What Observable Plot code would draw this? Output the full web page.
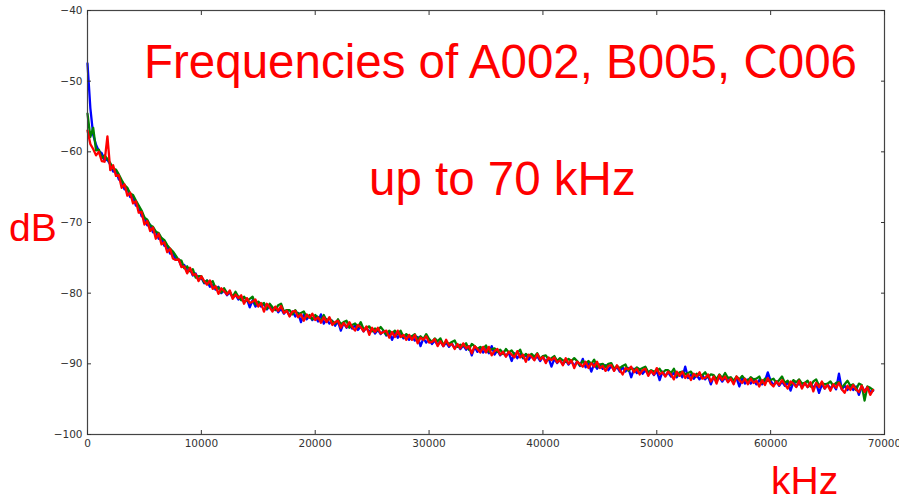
<!DOCTYPE html>
<html>
<head>
<meta charset="utf-8">
<script src="https://cdn.jsdelivr.net/npm/d3@7"></script>
<script src="https://cdn.jsdelivr.net/npm/@observablehq/plot@0.6"></script>
<style>
  body { margin: 0; background: #fff; }
  #chart svg { display: block; }
</style>
</head>
<body>
<div id="chart"></div>
<script>
// Spectrum bins (Hz), one row per kHz
const freqHz = [
  0, 250, 500, 750, 1000, 1250, 1500, 1750, 2000, 2250, 2500, 2750, 3000, 3250, 3500, 3750,
  4000, 4250, 4500, 4750, 5000, 5250, 5500, 5750, 6000, 6250, 6500, 6750, 7000, 7250, 7500, 7750,
  8000, 8250, 8500, 8750, 9000, 9250, 9500, 9750, 10000, 10250, 10500, 10750, 11000, 11250, 11500, 11750,
  12000, 12250, 12500, 12750, 13000, 13250, 13500, 13750, 14000, 14250, 14500, 14750, 15000, 15250, 15500, 15750,
  16000, 16250, 16500, 16750, 17000, 17250, 17500, 17750, 18000, 18250, 18500, 18750, 19000, 19250, 19500, 19750,
  20000, 20250, 20500, 20750, 21000, 21250, 21500, 21750, 22000, 22250, 22500, 22750, 23000, 23250, 23500, 23750,
  24000, 24250, 24500, 24750, 25000, 25250, 25500, 25750, 26000, 26250, 26500, 26750, 27000, 27250, 27500, 27750,
  28000, 28250, 28500, 28750, 29000, 29250, 29500, 29750, 30000, 30250, 30500, 30750, 31000, 31250, 31500, 31750,
  32000, 32250, 32500, 32750, 33000, 33250, 33500, 33750, 34000, 34250, 34500, 34750, 35000, 35250, 35500, 35750,
  36000, 36250, 36500, 36750, 37000, 37250, 37500, 37750, 38000, 38250, 38500, 38750, 39000, 39250, 39500, 39750,
  40000, 40250, 40500, 40750, 41000, 41250, 41500, 41750, 42000, 42250, 42500, 42750, 43000, 43250, 43500, 43750,
  44000, 44250, 44500, 44750, 45000, 45250, 45500, 45750, 46000, 46250, 46500, 46750, 47000, 47250, 47500, 47750,
  48000, 48250, 48500, 48750, 49000, 49250, 49500, 49750, 50000, 50250, 50500, 50750, 51000, 51250, 51500, 51750,
  52000, 52250, 52500, 52750, 53000, 53250, 53500, 53750, 54000, 54250, 54500, 54750, 55000, 55250, 55500, 55750,
  56000, 56250, 56500, 56750, 57000, 57250, 57500, 57750, 58000, 58250, 58500, 58750, 59000, 59250, 59500, 59750,
  60000, 60250, 60500, 60750, 61000, 61250, 61500, 61750, 62000, 62250, 62500, 62750, 63000, 63250, 63500, 63750,
  64000, 64250, 64500, 64750, 65000, 65250, 65500, 65750, 66000, 66250, 66500, 66750, 67000, 67250, 67500, 67750,
  68000, 68250, 68500, 68750, 69000
];

// Level in dB for each recording
const dbA002 = [
  -47.5, -53.8, -57.6, -59.0, -59.9, -60.2, -61.2, -61.1,
  -61.8, -62.8, -62.7, -63.9, -64.1, -65.3, -65.2, -66.4,
  -66.3, -67.6, -67.7, -69.1, -69.3, -70.4, -70.3, -71.4,
  -71.3, -72.3, -72.2, -73.3, -73.3, -74.4, -74.3, -75.3,
  -75.2, -76.2, -76.0, -76.9, -76.6, -77.5, -77.2, -78.1,
  -77.8, -78.6, -78.2, -79.1, -78.8, -79.5, -79.1, -80.0,
  -79.6, -80.3, -79.9, -80.6, -80.2, -80.9, -80.5, -81.3,
  -80.8, -82.0, -81.0, -81.9, -81.3, -81.9, -81.5, -82.3,
  -81.8, -82.4, -82.0, -82.7, -82.2, -82.9, -82.4, -83.2,
  -82.6, -83.3, -82.8, -84.1, -83.0, -83.7, -83.2, -83.8,
  -83.3, -84.0, -83.0, -84.3, -83.7, -84.3, -83.9, -84.6,
  -84.0, -85.3, -84.2, -84.9, -84.4, -85.0, -84.6, -85.2,
  -84.7, -85.4, -84.9, -85.5, -85.0, -85.7, -85.2, -85.8,
  -85.3, -86.0, -85.5, -86.6, -85.6, -86.3, -85.8, -86.4,
  -85.9, -86.6, -86.1, -86.7, -86.2, -87.5, -86.4, -87.0,
  -86.5, -87.2, -86.7, -87.3, -86.8, -87.5, -87.0, -87.6,
  -87.1, -87.8, -87.3, -87.9, -87.4, -88.0, -87.5, -88.8,
  -87.6, -88.3, -87.8, -88.4, -87.9, -88.5, -87.5, -88.7,
  -88.1, -88.8, -88.3, -88.9, -88.4, -89.6, -88.5, -89.2,
  -88.6, -89.2, -88.7, -89.4, -88.8, -89.4, -88.9, -89.6,
  -89.0, -89.7, -89.2, -90.4, -89.3, -89.9, -89.4, -90.1,
  -89.5, -90.1, -89.6, -90.3, -89.7, -90.3, -89.3, -90.5,
  -89.9, -91.1, -90.0, -90.7, -90.1, -90.7, -90.2, -90.9,
  -90.3, -90.9, -90.4, -91.1, -90.5, -91.1, -90.6, -91.9,
  -90.7, -91.3, -90.8, -91.4, -90.9, -91.4, -91.0, -91.6,
  -91.0, -92.3, -91.1, -91.7, -91.2, -91.8, -91.3, -91.9,
  -91.3, -91.9, -90.4, -92.0, -91.5, -92.1, -91.6, -92.2,
  -91.6, -92.2, -91.7, -92.9, -91.8, -92.4, -91.9, -92.5,
  -91.9, -92.5, -92.0, -92.6, -92.0, -93.2, -92.1, -92.8,
  -92.2, -92.8, -92.3, -92.9, -92.3, -92.9, -92.4, -91.2,
  -92.4, -93.0, -92.5, -93.1, -92.5, -93.1, -92.6, -93.8,
  -92.6, -93.2, -92.7, -93.3, -92.7, -93.3, -92.8, -93.4,
  -92.8, -94.1, -92.9, -93.5, -92.9, -93.5, -93.0, -93.6,
  -91.4, -93.6, -93.1, -93.7, -93.1, -93.7, -93.2, -94.4,
  -93.2, -93.9, -93.3, -94.0, -93.8
];

const dbB005 = [
  -54.6, -57.9, -56.6, -59.8, -59.7, -60.9, -60.5, -61.0,
  -61.6, -62.4, -62.5, -63.2, -64.0, -64.7, -65.1, -65.9,
  -66.1, -66.9, -67.6, -68.3, -69.3, -69.6, -70.4, -70.6,
  -71.3, -71.5, -72.2, -72.5, -73.2, -73.7, -74.1, -74.7,
  -75.3, -75.4, -76.5, -76.2, -76.9, -76.6, -77.8, -77.6,
  -77.6, -78.5, -78.2, -78.7, -78.3, -79.3, -79.2, -79.9,
  -79.3, -80.0, -79.8, -80.5, -79.8, -80.5, -81.0, -80.5,
  -81.1, -80.8, -80.5, -81.6, -81.2, -81.6, -81.4, -82.2,
  -81.5, -82.0, -82.4, -81.7, -81.5, -82.6, -82.4, -82.4,
  -83.0, -82.4, -83.0, -82.8, -82.6, -83.4, -83.1, -83.7,
  -83.1, -83.4, -83.9, -83.1, -83.9, -83.6, -84.0, -84.3,
  -83.7, -84.4, -84.1, -83.9, -84.9, -84.5, -84.3, -84.8,
  -84.1, -85.1, -84.9, -84.7, -85.4, -85.0, -85.3, -84.8,
  -85.3, -85.9, -85.3, -85.7, -85.3, -85.8, -85.3, -86.2,
  -85.8, -86.2, -86.1, -85.8, -86.6, -86.1, -86.5, -85.8,
  -86.5, -86.9, -86.4, -86.8, -86.4, -87.3, -86.9, -87.2,
  -86.9, -86.7, -87.6, -87.3, -87.5, -87.1, -88.0, -87.2,
  -87.5, -87.9, -87.6, -87.9, -87.4, -88.3, -87.9, -87.8,
  -88.3, -88.0, -88.6, -87.9, -88.4, -88.1, -88.7, -88.5,
  -88.0, -89.1, -88.6, -88.9, -88.6, -89.0, -88.5, -89.3,
  -88.9, -88.8, -89.4, -89.2, -88.9, -89.6, -89.2, -89.5,
  -89.7, -89.3, -89.6, -89.2, -89.6, -90.2, -89.6, -90.0,
  -89.6, -90.0, -89.4, -90.4, -90.1, -90.0, -90.4, -90.0,
  -89.9, -90.7, -90.3, -90.6, -90.3, -90.1, -91.0, -90.6,
  -90.9, -90.5, -90.8, -90.6, -90.4, -91.2, -90.9, -91.1,
  -91.0, -90.7, -91.3, -90.9, -90.9, -91.3, -90.7, -91.7,
  -91.2, -91.1, -91.5, -91.3, -91.1, -91.8, -91.4, -91.6,
  -91.6, -91.2, -91.9, -91.5, -91.6, -92.2, -91.5, -92.0,
  -91.3, -92.0, -91.9, -92.4, -91.8, -92.2, -91.7, -92.2,
  -92.4, -91.9, -92.2, -92.1, -91.8, -92.7, -92.1, -92.4,
  -92.3, -92.1, -92.7, -92.3, -91.8, -92.7, -92.4, -93.0,
  -92.3, -92.6, -92.2, -92.8, -92.7, -92.4, -93.2, -92.5,
  -92.2, -93.1, -92.7, -92.9, -92.8, -92.5, -93.1, -92.7,
  -92.6, -93.4, -92.9, -92.4, -93.1, -92.9, -93.7, -92.8,
  -93.0, -95.2, -93.2, -93.4, -93.7
];

const dbC006 = [
  -57.0, -58.9, -59.6, -60.5, -60.0, -61.3, -61.4, -57.8,
  -62.6, -61.9, -63.4, -63.3, -65.1, -64.6, -66.2, -65.8,
  -67.3, -67.0, -68.6, -68.5, -70.3, -69.8, -71.2, -70.7,
  -72.3, -71.6, -73.1, -72.8, -74.2, -73.7, -75.1, -75.3,
  -75.2, -76.3, -76.2, -77.2, -76.4, -77.4, -77.3, -78.3,
  -77.6, -78.3, -78.8, -78.2, -79.4, -79.0, -80.1, -79.3,
  -79.7, -80.2, -79.6, -80.8, -80.2, -80.7, -80.3, -81.5,
  -80.7, -81.4, -81.2, -80.9, -81.9, -81.4, -82.6, -81.5,
  -82.0, -82.6, -81.9, -82.5, -81.8, -82.8, -82.5, -83.3,
  -82.6, -82.5, -83.4, -83.0, -83.9, -83.0, -83.5, -82.9,
  -83.8, -83.4, -84.2, -83.4, -84.1, -83.4, -84.5, -84.1,
  -83.9, -84.9, -84.2, -84.8, -84.1, -84.8, -85.3, -84.5,
  -84.8, -85.4, -84.7, -85.9, -84.9, -85.5, -84.9, -85.7,
  -85.5, -85.3, -86.3, -85.5, -86.2, -85.3, -86.2, -85.9,
  -86.6, -85.9, -86.6, -85.9, -87.1, -86.3, -86.6, -86.1,
  -87.0, -86.9, -86.5, -87.5, -86.8, -87.5, -86.6, -87.4,
  -87.2, -87.9, -87.2, -87.8, -87.1, -87.8, -87.5, -88.5,
  -87.5, -87.9, -88.4, -87.6, -88.4, -87.6, -88.8, -88.2,
  -87.9, -88.7, -88.3, -89.0, -88.3, -88.7, -89.1, -88.2,
  -89.1, -88.7, -89.7, -88.7, -89.0, -89.5, -88.6, -89.4,
  -89.0, -89.9, -89.1, -89.5, -89.1, -89.8, -89.5, -90.2,
  -89.2, -90.0, -89.5, -90.6, -89.7, -90.0, -90.4, -89.7,
  -90.6, -89.9, -90.4, -89.7, -90.6, -90.3, -91.0, -90.3,
  -90.2, -91.0, -90.2, -90.9, -91.5, -90.6, -90.8, -90.4,
  -91.2, -90.7, -91.5, -90.9, -90.7, -91.7, -91.0, -91.5,
  -90.6, -91.5, -91.2, -91.8, -91.1, -91.5, -92.2, -91.1,
  -91.7, -91.1, -92.0, -91.5, -92.3, -91.4, -91.8, -91.2,
  -92.1, -92.0, -91.5, -92.5, -91.8, -92.8, -91.6, -92.3,
  -91.8, -92.6, -92.1, -92.9, -91.8, -92.3, -92.7, -92.1,
  -92.9, -92.1, -92.7, -92.4, -93.2, -92.3, -93.0, -92.0,
  -92.8, -93.2, -92.5, -93.0, -92.3, -92.9, -93.5, -92.5,
  -92.8, -93.3, -92.4, -93.5, -92.7, -93.3, -92.6, -93.9,
  -92.7, -93.3, -92.5, -93.5, -93.0, -93.8, -92.9, -93.4,
  -92.7, -93.6, -94.1, -93.1, -93.7, -93.0, -93.6, -94.0,
  -93.1, -94.0, -93.3, -94.4, -93.7
];

const seriesNames = ["A002", "B005", "C006"];
const seriesColors = ["#0000ff", "#008000", "#ff0000"];
const xTicks = [0, 10000, 20000, 30000, 40000, 50000, 60000, 70000];
const yTicks = [-100, -90, -80, -70, -60, -50, -40];

const titleText = "Frequencies of A002, B005, C006";
const subtitleText = "up to 70 kHz";
const yLabelText = "dB";
const xLabelText = "kHz";

// Long-format table: one row per (recording, bin)
const rows = [];
[dbA002, dbB005, dbC006].forEach((values, s) => {
  values.forEach((v, i) => rows.push({series: seriesNames[s], f: freqHz[i], db: v}));
});

const fmtMinus = d => (d < 0 ? "\u2212" + Math.abs(d) : String(d));
const blank = () => "";

const svg = Plot.plot({
  width: 899,
  height: 499,
  marginTop: 10,
  marginRight: 15,
  marginBottom: 65,
  marginLeft: 87,
  style: {fontFamily: "'DejaVu Sans', sans-serif", fontSize: "10.5px", color: "#333", background: "#fff"},
  x: {domain: [0, 70000]},
  y: {domain: [-100, -40]},
  color: {domain: seriesNames, range: seriesColors},
  marks: [
    Plot.line(rows, {x: "f", y: "db", z: "series", stroke: "series", strokeWidth: 2.3}),
    Plot.frame({stroke: "#444", strokeWidth: 1.2}),
    Plot.axisX(xTicks, {anchor: "bottom", tickSize: -4, tickPadding: 9, tickFormat: d => String(d), label: null}),
    Plot.axisX(xTicks, {anchor: "top", tickSize: -4, tickFormat: blank, label: null}),
    Plot.axisY(yTicks, {anchor: "left", tickSize: -4, tickPadding: 9, tickFormat: fmtMinus, label: null}),
    Plot.axisY(yTicks, {anchor: "right", tickSize: -4, tickFormat: blank, label: null})
  ]
});

// Red annotation text
const sel = d3.select(svg);
const addText = (txt, x, y, size) =>
  sel.append("text")
    .attr("x", x).attr("y", y)
    .attr("text-anchor", "start")
    .attr("fill", "#ff0000")
    .attr("font-family", "'Liberation Sans', Arial, sans-serif")
    .attr("font-size", size)
    .text(txt);
addText(titleText, 144, 78, 47.5);
addText(subtitleText, 369, 195, 47.5);
addText(yLabelText, 9, 241, 39);
addText(xLabelText, 771, 494, 39);

document.getElementById("chart").appendChild(svg);
</script>
</body>
</html>
